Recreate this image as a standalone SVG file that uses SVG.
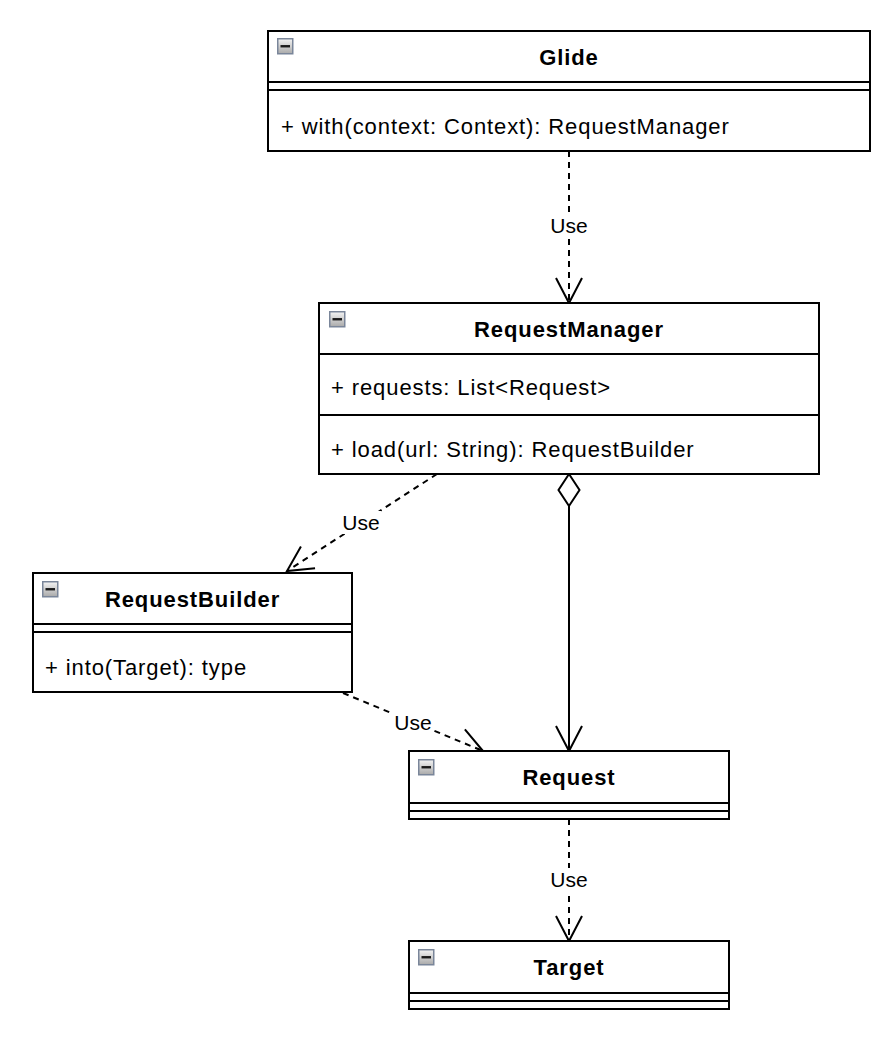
<svg xmlns="http://www.w3.org/2000/svg" width="896" height="1038" viewBox="0 0 896 1038">
  <defs>
    <linearGradient id="iconGrad" x1="0" y1="0" x2="0" y2="1">
      <stop offset="0" stop-color="#f4f4f4"/>
      <stop offset="1" stop-color="#a9a9a9"/>
    </linearGradient>
    <marker id="openArrow" markerUnits="userSpaceOnUse" markerWidth="30" markerHeight="30" refX="0" refY="0" orient="auto" overflow="visible">
      <path d="M-25,-13 L0,0 L-25,13" fill="none" stroke="#000" stroke-width="2" stroke-dasharray="none"/>
    </marker>
    <g id="icon">
      <rect x="0.75" y="0.75" width="15" height="15" fill="url(#iconGrad)" stroke="#7a869a" stroke-width="1.5"/>
      <line x1="3.5" y1="8.25" x2="13" y2="8.25" stroke="#1a1a1a" stroke-width="2.4"/>
    </g>
  </defs>
  <style>
    .box { fill: #ffffff; stroke: #000000; stroke-width: 2; }
    .sep { stroke: #000000; stroke-width: 2; }
    .title { font-family: "Liberation Sans", Arial, sans-serif; font-size: 22px; font-weight: bold; letter-spacing: 0.9px; text-anchor: middle; fill: #000; }
    .member { font-family: "Liberation Sans", Arial, sans-serif; font-size: 22px; letter-spacing: 0.9px; fill: #000; }
    .lbl { font-family: "Liberation Sans", Arial, sans-serif; font-size: 21px; text-anchor: middle; fill: #000; }
    .dash { fill: none; stroke: #000; stroke-width: 2; stroke-dasharray: 6 5; }
    .solid { fill: none; stroke: #000; stroke-width: 2; }
    .lblbg { fill: #ffffff; }
  </style>
  <rect width="896" height="1038" fill="#ffffff"/>

  <g id="connectors">
    <g id="edge-glide-rm">
      <line class="dash" x1="569" y1="151" x2="569" y2="303" marker-end="url(#openArrow)"/>
      <rect class="lblbg" x="549" y="214" width="40" height="23"/>
      <text class="lbl" x="569" y="233">Use</text>
    </g>
    <g id="edge-rm-rb">
      <line class="dash" x1="437" y1="474" x2="287" y2="571" marker-end="url(#openArrow)"/>
      <rect class="lblbg" x="341" y="511" width="40" height="23"/>
      <text class="lbl" x="361" y="530">Use</text>
    </g>
    <g id="edge-rb-req">
      <line class="dash" x1="343" y1="693" x2="483" y2="751" marker-end="url(#openArrow)"/>
      <rect class="lblbg" x="393" y="711" width="40" height="23"/>
      <text class="lbl" x="413" y="730">Use</text>
    </g>
    <g id="edge-rm-req">
      <line class="solid" x1="569" y1="506" x2="569" y2="751" marker-end="url(#openArrow)"/>
      <polygon points="569,474 579.5,490 569,506 558.5,490" fill="#ffffff" stroke="#000" stroke-width="2"/>
    </g>
    <g id="edge-req-target">
      <line class="dash" x1="569" y1="819" x2="569" y2="941" marker-end="url(#openArrow)"/>
      <rect class="lblbg" x="549" y="868" width="40" height="23"/>
      <text class="lbl" x="569" y="887">Use</text>
    </g>
  </g>

  <g id="node-glide">
    <rect class="box" x="268" y="31" width="602" height="120"/>
    <line class="sep" x1="268" y1="82" x2="870" y2="82"/>
    <line class="sep" x1="268" y1="90" x2="870" y2="90"/>
    <use href="#icon" x="277" y="38"/>
    <text class="title" x="569" y="65">Glide</text>
    <text class="member" x="281" y="134">+ with(context: Context): RequestManager</text>
  </g>

  <g id="node-requestmanager">
    <rect class="box" x="319" y="303" width="500" height="171"/>
    <line class="sep" x1="319" y1="354" x2="819" y2="354"/>
    <line class="sep" x1="319" y1="415" x2="819" y2="415"/>
    <use href="#icon" x="329" y="311"/>
    <text class="title" x="569" y="337">RequestManager</text>
    <text class="member" x="331" y="395">+ requests: List&lt;Request&gt;</text>
    <text class="member" x="331" y="457">+ load(url: String): RequestBuilder</text>
  </g>

  <g id="node-requestbuilder">
    <rect class="box" x="33" y="573" width="319" height="119"/>
    <line class="sep" x1="33" y1="624" x2="352" y2="624"/>
    <line class="sep" x1="33" y1="632" x2="352" y2="632"/>
    <use href="#icon" x="42" y="581"/>
    <text class="title" x="192.5" y="607">RequestBuilder</text>
    <text class="member" x="45" y="675">+ into(Target): type</text>
  </g>

  <g id="node-request">
    <rect class="box" x="409" y="751" width="320" height="68"/>
    <line class="sep" x1="409" y1="803" x2="729" y2="803"/>
    <line class="sep" x1="409" y1="811" x2="729" y2="811"/>
    <use href="#icon" x="418" y="759"/>
    <text class="title" x="569" y="785">Request</text>
  </g>

  <g id="node-target">
    <rect class="box" x="409" y="941" width="320" height="68"/>
    <line class="sep" x1="409" y1="993" x2="729" y2="993"/>
    <line class="sep" x1="409" y1="1001" x2="729" y2="1001"/>
    <use href="#icon" x="418" y="949"/>
    <text class="title" x="569" y="975">Target</text>
  </g>
</svg>
